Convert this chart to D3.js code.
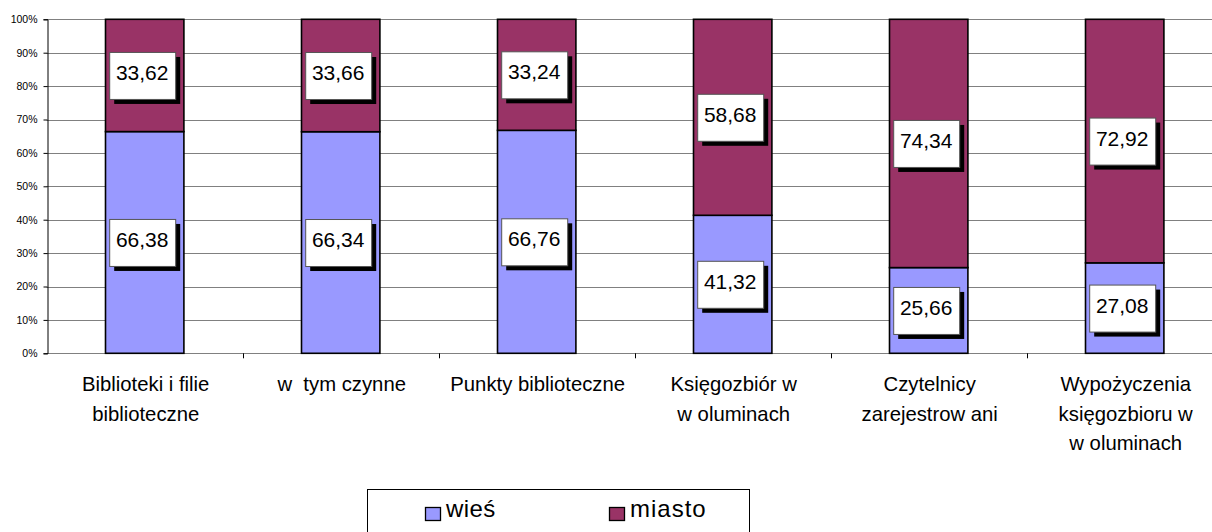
<!DOCTYPE html>
<html>
<head>
<meta charset="utf-8">
<script src="https://cdn.jsdelivr.net/npm/d3@7"></script>
<style>
  html, body { margin: 0; padding: 0; background: #fff; }
  svg { display: block; }
  text { font-family: "Liberation Sans", Arial, sans-serif; fill: #000; white-space: pre; }
</style>
</head>
<body>
<svg id="chart" width="1212" height="532"></svg>
<script>
const categories = [
  "Biblioteki i filie\nbiblioteczne",
  "w  tym czynne",
  "Punkty biblioteczne",
  "Księgozbiór w\nw oluminach",
  "Czytelnicy\nzarejestrow ani",
  "Wypożyczenia\nksięgozbioru w\nw oluminach"
];
const seriesNames = ["wieś", "miasto"];
const wies   = [66.38, 66.34, 66.76, 41.32, 25.66, 27.08];
const miasto = [33.62, 33.66, 33.24, 58.68, 74.34, 72.92];
const yTicks = [0, 10, 20, 30, 40, 50, 60, 70, 80, 90, 100];
const colors = ["#9999FF", "#993366"];

(function () {
const svg = d3.select("#chart");
const pLeft = 46.7, pRight = 1222.7, pTop = 19.3, pBottom = 353.3;

const x = d3.scaleBand().domain(categories).range([pLeft, pRight])
  .paddingInner(0.6).paddingOuter(0.3);
const y = d3.scaleLinear().domain([0, 100]).range([pBottom, pTop]);

// gridlines
svg.append("g").selectAll("line").data(yTicks).join("line")
  .attr("x1", pLeft).attr("x2", 1212)
  .attr("y1", d => Math.round(y(d)) + 0.5).attr("y2", d => Math.round(y(d)) + 0.5)
  .attr("stroke", "#808080").attr("stroke-width", 1);

// stacked data
const rows = categories.map((c, i) => ({cat: c, "wieś": wies[i], "miasto": miasto[i]}));
const stack = d3.stack().keys(seriesNames)(rows);

const gBars = svg.append("g");
stack.forEach((layer, li) => {
  gBars.append("g").selectAll("rect").data(layer).join("rect")
    .attr("x", d => x(d.data.cat))
    .attr("y", d => y(d[1]))
    .attr("width", x.bandwidth())
    .attr("height", d => y(d[0]) - y(d[1]))
    .attr("fill", colors[li])
    .attr("stroke", "#000").attr("stroke-width", 1.6);
});

// y axis
const yAxis = d3.axisLeft(y).tickValues(yTicks).tickSize(4).tickPadding(6)
  .tickFormat(d => d + "%");
const gy = svg.append("g").attr("transform", `translate(${Math.round(pLeft) + 0.5},0)`).call(yAxis);
gy.select(".domain").attr("stroke", "#000");
gy.selectAll(".tick line").attr("stroke", "#000");
gy.selectAll(".tick text").style("font-size", "10.5px").attr("fill", "#000")
  .style("font-family", '"Liberation Sans", Arial, sans-serif');

// x axis ticks between categories
const step = x.step();
const xTickPos = d3.range(1, categories.length).map(i => pLeft + i * step);
svg.append("g").selectAll("line").data(xTickPos).join("line")
  .attr("x1", d => Math.round(d) + 0.5).attr("x2", d => Math.round(d) + 0.5)
  .attr("y1", pBottom).attr("y2", pBottom + 5)
  .attr("stroke", "#000").attr("stroke-width", 1);

// category labels
const gCat = svg.append("g");
categories.forEach(c => {
  const lines = c.split("\n");
  const t = gCat.append("text")
    .attr("text-anchor", "middle")
    .attr("xml:space", "preserve")
    .style("font-size", "20.3px");
  lines.forEach((ln, i) => {
    t.append("tspan").attr("x", x(c) + x.bandwidth() / 2 + 1)
      .attr("y", 391 + i * 29.5).text(ln);
  });
});

// data labels
const fmt = v => d3.format(".2f")(v).replace(".", ",");
const bw = 66, bh = 47;
const gLab = svg.append("g");
stack.forEach(layer => {
  layer.forEach(d => {
    const cx = x(d.data.cat) + x.bandwidth() / 2 - 2.5;
    const cy = y((d[0] + d[1]) / 2);
    const g = gLab.append("g");
    g.append("rect").attr("x", cx - bw / 2 + 5).attr("y", cy - bh / 2 + 5)
      .attr("width", bw).attr("height", bh).attr("fill", "#000");
    g.append("rect").attr("x", cx - bw / 2 + 0.5).attr("y", cy - bh / 2 + 0.5)
      .attr("width", bw).attr("height", bh).attr("fill", "#fff")
      .attr("stroke", "#555").attr("stroke-width", 1);
    g.append("text").attr("x", cx).attr("y", cy + 4.5)
      .attr("text-anchor", "middle").style("font-size", "21px")
      .text(fmt(d[1] - d[0]));
  });
});

// legend
const gLeg = svg.append("g");
gLeg.append("rect").attr("x", 367.5).attr("y", 489.5).attr("width", 382).attr("height", 60)
  .attr("fill", "#fff").attr("stroke", "#000").attr("stroke-width", 1);
const legX = [425, 609];
seriesNames.forEach((s, i) => {
  gLeg.append("rect").attr("x", legX[i] + 0.5).attr("y", 507.5).attr("width", 15).attr("height", 13)
    .attr("fill", colors[i]).attr("stroke", "#000").attr("stroke-width", 1.3);
  gLeg.append("text").attr("x", legX[i] + 21).attr("y", 517)
    .style("font-size", "24px").style("letter-spacing", i === 1 ? "1px" : "0.4px").text(s);
});
})();
</script>
</body>
</html>
